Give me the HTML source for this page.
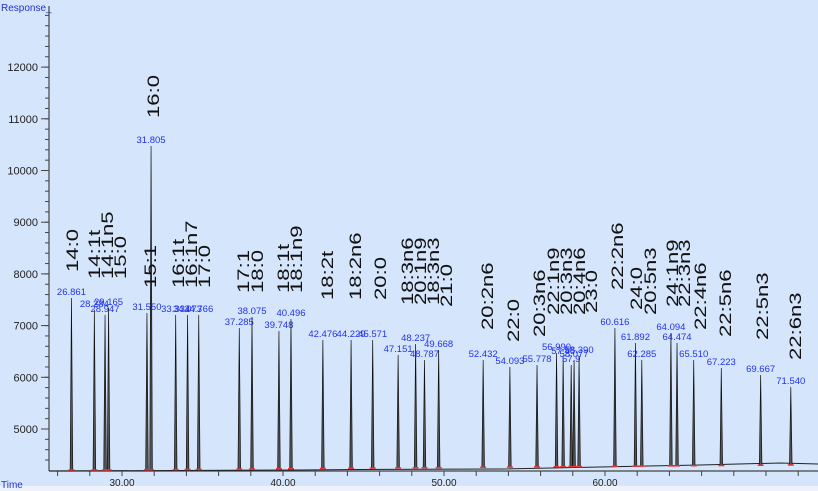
<!DOCTYPE html>
<html><head><meta charset="utf-8"><style>
html,body{margin:0;padding:0;background:#d5e5fb;}
svg{display:block;font-family:"Liberation Sans",sans-serif;}
</style></head><body>
<svg id="s" width="818" height="491" xmlns="http://www.w3.org/2000/svg">
<rect width="818" height="491" fill="#d5e5fb"/>
<rect x="0" y="486" width="818" height="5" fill="#eef3fb"/>
<text x="1" y="11" font-size="10" fill="#2233cc">Response_</text>
<text x="1" y="488" font-size="10" fill="#2233cc">Time</text>
<line x1="49" y1="6" x2="49" y2="471" stroke="#444" stroke-width="1.2"/>
<line x1="49" y1="471" x2="818" y2="471" stroke="#444" stroke-width="1.2"/>
<line x1="151" y1="233" x2="151" y2="470" stroke="#333" stroke-width="1"/>
<g id="g"></g>
</svg>
<script>
var g=document.getElementById('g'),h='';
function X(t){return 122+(t-30)*16.1;}
function Y(v){return 429-(v-5000)*0.0517;}
for(var v=4400;v<=13000;v+=200){var y=Y(v);if(y<8)continue;h+='<line x1="45" x2="49" y1="'+y+'" y2="'+y+'" stroke="#444"/>';
 if(v%1000==0&&v>=5000&&v<=12000)h+='<line x1="41" x2="49" y1="'+y+'" y2="'+y+'" stroke="#444"/><text x="38" y="'+(y+4)+'" font-size="11" text-anchor="end" fill="#222">'+v+'</text>';}
for(var t=26;t<=74;t+=2){var x=X(t);h+='<line x1="'+x+'" x2="'+x+'" y1="471" y2="476" stroke="#444"/>';}
[30,40,50,60].forEach(function(t){h+='<text x="'+X(t)+'" y="486" font-size="10" text-anchor="middle" fill="#222">'+t+'.00</text>';});
h+='<polyline fill="none" stroke="#222" stroke-width="1" points="49,471 300,470 360,469.5 500,469 600,467 700,465 780,463 818,464"/>';
var P=[[26.861,298,'26.861'],[28.284,310,'28.284'],[28.947,315,'28.947'],[29.165,308,'29.165'],[31.55,313,'31.550'],[31.805,146,'31.805'],
[33.334,315,'33.334'],[34.073,315,'34.073'],[34.766,315,'34.766'],[37.285,328,'37.285'],[38.075,317,'38.075'],[39.748,331,'39.748'],[40.496,319,'40.496'],
[42.476,340,'42.476'],[44.229,340,'44.229'],[45.571,340,'45.571'],[47.151,355,'47.151'],[48.237,344,'48.237'],[48.787,360,'48.787'],[49.668,350,'49.668'],
[52.432,360,'52.432'],[54.093,367,'54.093'],[55.778,365,'55.778'],[56.99,353,'56.990'],[57.4,357,'57.46'],[57.9,365,'57.9'],[58.08,360,'58.077'],[58.39,356,'58.390'],
[60.616,328,'60.616'],[61.892,343,'61.892'],[62.285,360,'62.285'],[64.094,333,'64.094'],[64.474,343,'64.474'],[65.51,360,'65.510'],[67.223,368,'67.223'],[69.667,375,'69.667'],[71.54,387,'71.540']];
P.forEach(function(p){var x=X(p[0]),b=470-(p[0]-30)*0.12;if(b>470)b=470;
 h+='<polygon points="'+(x-1.3)+','+b+' '+x+','+p[1]+' '+(x+1.3)+','+b+'" fill="#555" stroke="#111" stroke-width="0.7"/>';
 h+='<line x1="'+(x-3)+'" x2="'+(x+3)+'" y1="'+b+'" y2="'+b+'" stroke="#e33" stroke-width="1.5"/>';
 h+='<text x="'+x+'" y="'+(p[1]-3)+'" font-size="9.5" text-anchor="middle" fill="#2233ee">'+p[2]+'</text>';});
var L=[['14:0',72,272],['14:1t',94,279],['14:1n5',107,279],['15:0',120,279],['15:1',150,288],['16:0',153,118],['16:1t',178,288],['16:1n7',191,288],['17:0',204,288],
['17:1',243,293],['18:0',257,293],['18:1t',283,293],['18:1n9',296,293],['18:2t',327,300],['18:2n6',355,300],['20:0',380,300],['18:3n6',407,305],['20:1n9',420,305],
['18:3n3',433,305],['21:0',446,307],['20:2n6',487,330],['22:0',513,342],['20:3n6',539,337],['22:1n9',553,315],['20:3n3',566,315],['20:4n6',579,315],['23:0',591,313],
['22:2n6',617,290],['24:0',636,310],['20:5n3',650,315],['24:1n9',672,307],['22:3n3',684,307],['22:4n6',700,330],['22:5n6',725,337],['22:5n3',762,340],['22:6n3',795,360]];
L.forEach(function(l){h+='<text transform="translate('+(l[1]+6)+','+l[2]+') rotate(-90) scale(1.3,1)" font-size="17" fill="#111">'+l[0]+'</text>';});
g.innerHTML=h;
</script>
</body></html>
